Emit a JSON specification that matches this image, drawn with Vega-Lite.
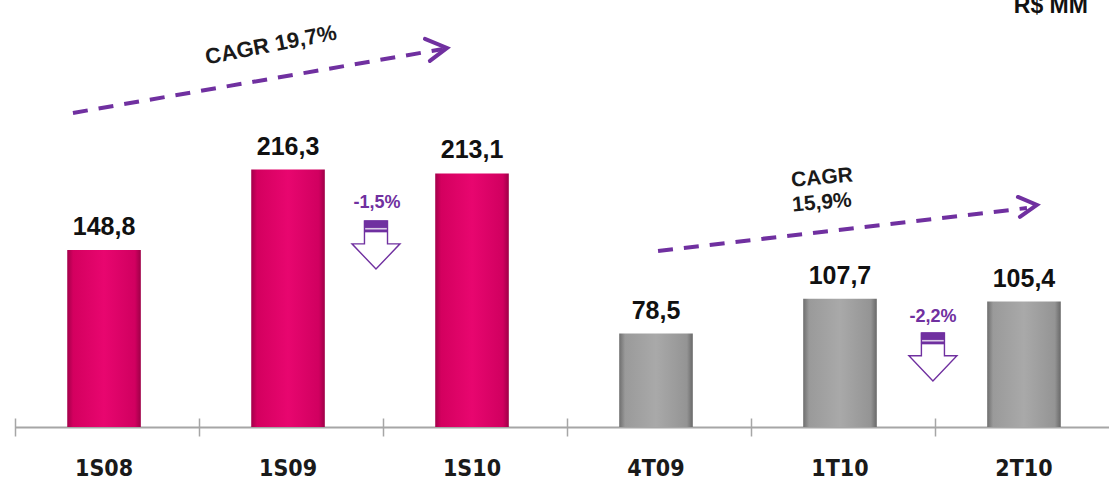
{
  "$schema": "https://vega.github.io/schema/vega-lite/v6.json",
  "width": 1094,
  "height": 427,
  "padding": {"left": 15, "top": 0, "right": 0, "bottom": 52},
  "autosize": {"type": "none"},
  "background": "white",
  "config": {"view": {"stroke": null}, "font": "Liberation Sans"},
  "datasets": {
    "bars": [
      {"period": "1S08", "value": 148.8, "label": "148,8", "group": "S"},
      {"period": "1S09", "value": 216.3, "label": "216,3", "group": "S"},
      {"period": "1S10", "value": 213.1, "label": "213,1", "group": "S"},
      {"period": "4T09", "value": 78.5, "label": "78,5", "group": "T"},
      {"period": "1T10", "value": 107.7, "label": "107,7", "group": "T"},
      {"period": "2T10", "value": 105.4, "label": "105,4", "group": "T"}
    ],
    "arrows": [
      {"id": "a1", "kind": "dash", "ord": 1, "ax": 0.315, "ay": 263.9},
      {"id": "a1", "kind": "dash", "ord": 2, "ax": 2.326, "ay": 317.6},
      {"id": "a2", "kind": "dash", "ord": 1, "ax": 3.495, "ay": 147.9},
      {"id": "a2", "kind": "dash", "ord": 2, "ax": 5.5, "ay": 184.0},
      {"id": "h1", "kind": "head", "ord": 1, "ax": 2.228, "ay": 326.1},
      {"id": "h1", "kind": "head", "ord": 2, "ax": 2.348, "ay": 318.5},
      {"id": "h1", "kind": "head", "ord": 3, "ax": 2.255, "ay": 307.6},
      {"id": "h2", "kind": "head", "ord": 1, "ax": 5.451, "ay": 193.3},
      {"id": "h2", "kind": "head", "ord": 2, "ax": 5.554, "ay": 186.6},
      {"id": "h2", "kind": "head", "ord": 3, "ax": 5.462, "ay": 176.5}
    ],
    "notes": [
      {"kind": "cagr1", "text": "CAGR 19,7%", "ax": 1.391, "ay": 321.0},
      {"kind": "cagr2", "text": "CAGR", "ax": 4.386, "ay": 209.2},
      {"kind": "cagr2", "text": "15,9%", "ax": 4.386, "ay": 188.2},
      {"kind": "pct", "text": "-1,5%", "ax": 1.967, "ay": 188.2},
      {"kind": "pct", "text": "-2,2%", "ax": 4.989, "ay": 92.4},
      {"kind": "unit", "text": "R$ MM", "ax": 5.63, "ay": 347.5}
    ],
    "downs": [
      {"ax": 1.962, "ay": 152.9},
      {"ax": 4.989, "ay": 58.8}
    ]
  },
  "resolve": {"scale": {"x": "independent"}, "axis": {"x": "independent"}},
  "layer": [
    {
      "data": {"name": "bars"},
      "layer": [
        {
          "transform": [{"filter": "datum.group === 'S'"}],
          "mark": {
            "type": "bar",
            "fill": {
              "gradient": "linear", "x1": 0, "y1": 0, "x2": 1, "y2": 0,
              "stops": [
                {"offset": 0, "color": "#a3004a"},
                {"offset": 0.08, "color": "#d4005f"},
                {"offset": 0.5, "color": "#e8066f"},
                {"offset": 0.92, "color": "#d10060"},
                {"offset": 1, "color": "#9e0047"}
              ]
            }
          },
          "encoding": {
            "x": {"field": "period", "type": "nominal", "sort": null,
              "scale": {"domain": ["1S08", "1S09", "1S10", "4T09", "1T10", "2T10"], "paddingInner": 0.6, "paddingOuter": 0.273, "align": 0.52},
              "axis": {"orient": "bottom", "title": null, "domain": true, "domainColor": "#a6a6a6", "domainWidth": 2, "ticks": false,
                "labelFont": "DejaVu Sans Condensed, Liberation Sans, sans-serif", "labelFontSize": 23, "labelFontWeight": "bold", "labelColor": "#1a1a1a", "labelAngle": 0,
                "labelBaseline": "alphabetic", "labelPadding": 48}},
            "y": {"field": "value", "type": "quantitative", "scale": {"domain": [0, 358.8], "nice": false}, "axis": null}
          }
        },
        {
          "transform": [{"filter": "datum.group === 'T'"}],
          "mark": {
            "type": "bar",
            "fill": {
              "gradient": "linear", "x1": 0, "y1": 0, "x2": 1, "y2": 0,
              "stops": [
                {"offset": 0, "color": "#6e6e6e"},
                {"offset": 0.08, "color": "#9a9a9a"},
                {"offset": 0.5, "color": "#a9a9a9"},
                {"offset": 0.92, "color": "#949494"},
                {"offset": 1, "color": "#686868"}
              ]
            }
          },
          "encoding": {
            "x": {"field": "period", "type": "nominal", "sort": null},
            "y": {"field": "value", "type": "quantitative"}
          }
        },
        {
          "mark": {"type": "text", "dy": -15, "baseline": "alphabetic", "fontSize": 25, "fontWeight": "bold", "color": "#111111"},
          "encoding": {
            "x": {"field": "period", "type": "nominal", "sort": null},
            "y": {"field": "value", "type": "quantitative"},
            "text": {"field": "label"}
          }
        }
      ]
    },
    {
      "layer": [
        {
          "data": {"name": "arrows"},
          "transform": [{"filter": "datum.kind === 'dash'"}],
          "mark": {"type": "line", "color": "#7030a0", "strokeWidth": 4, "strokeDash": [15, 11]},
          "encoding": {
            "x": {"field": "ax", "type": "quantitative", "scale": {"domain": [0, 5.946], "nice": false, "zero": false},
              "axis": {"orient": "bottom", "values": [0, 1, 2, 3, 4, 5], "labels": false, "domain": false, "grid": false, "ticks": true,
                "tickSize": 18, "offset": -9, "tickColor": "#a6a6a6", "tickWidth": 1.5, "title": null}},
            "y": {"field": "ay", "type": "quantitative", "axis": null},
            "detail": {"field": "id"},
            "order": {"field": "ord"}
          }
        },
        {
          "data": {"name": "arrows"},
          "transform": [{"filter": "datum.kind === 'head'"}],
          "mark": {"type": "line", "color": "#7030a0", "strokeWidth": 4, "strokeCap": "round", "strokeJoin": "miter"},
          "encoding": {
            "x": {"field": "ax", "type": "quantitative"},
            "y": {"field": "ay", "type": "quantitative"},
            "detail": {"field": "id"},
            "order": {"field": "ord"}
          }
        },
        {
          "data": {"name": "notes"},
          "transform": [{"filter": "datum.kind === 'cagr1'"}],
          "mark": {"type": "text", "angle": -11, "fontSize": 22, "fontWeight": "bold", "color": "#1a1a1a", "baseline": "middle"},
          "encoding": {
            "x": {"field": "ax", "type": "quantitative"},
            "y": {"field": "ay", "type": "quantitative"},
            "text": {"field": "text"}
          }
        },
        {
          "data": {"name": "notes"},
          "transform": [{"filter": "datum.kind === 'cagr2'"}],
          "mark": {"type": "text", "angle": -5, "fontSize": 21, "fontWeight": "bold", "color": "#1a1a1a", "baseline": "middle"},
          "encoding": {
            "x": {"field": "ax", "type": "quantitative"},
            "y": {"field": "ay", "type": "quantitative"},
            "text": {"field": "text"}
          }
        },
        {
          "data": {"name": "notes"},
          "transform": [{"filter": "datum.kind === 'pct'"}],
          "mark": {"type": "text", "fontSize": 18, "fontWeight": "bold", "color": "#7030a0", "baseline": "middle"},
          "encoding": {
            "x": {"field": "ax", "type": "quantitative"},
            "y": {"field": "ay", "type": "quantitative"},
            "text": {"field": "text"}
          }
        },
        {
          "data": {"name": "notes"},
          "transform": [{"filter": "datum.kind === 'unit'"}],
          "mark": {"type": "text", "fontSize": 23, "fontWeight": "bold", "color": "#111111", "baseline": "alphabetic"},
          "encoding": {
            "x": {"field": "ax", "type": "quantitative"},
            "y": {"field": "ay", "type": "quantitative"},
            "text": {"field": "text"}
          }
        },
        {
          "data": {"name": "downs"},
          "mark": {"type": "point", "shape": "M-0.48,-1L0.48,-1L0.48,-0.05L1,-0.05L0,1L-1,-0.05L-0.48,-0.05Z", "size": 2304, "filled": true, "fill": "white", "stroke": "#7030a0", "strokeWidth": 1.4, "opacity": 1},
          "encoding": {
            "x": {"field": "ax", "type": "quantitative"},
            "y": {"field": "ay", "type": "quantitative"}
          }
        },
        {
          "data": {"name": "downs"},
          "mark": {"type": "point", "shape": "M-0.48,-1L0.48,-1L0.48,-0.72L-0.48,-0.72Z", "size": 2304, "filled": true, "fill": "#7030a0", "stroke": "#7030a0", "strokeWidth": 1, "opacity": 1},
          "encoding": {
            "x": {"field": "ax", "type": "quantitative"},
            "y": {"field": "ay", "type": "quantitative"}
          }
        },
        {
          "data": {"name": "downs"},
          "mark": {"type": "point", "shape": "M-0.48,-0.64L0.48,-0.64L0.48,-0.54L-0.48,-0.54Z", "size": 2304, "filled": true, "fill": "#7030a0", "stroke": "#7030a0", "strokeWidth": 0.5, "opacity": 1},
          "encoding": {
            "x": {"field": "ax", "type": "quantitative"},
            "y": {"field": "ay", "type": "quantitative"}
          }
        }
      ]
    }
  ]
}
